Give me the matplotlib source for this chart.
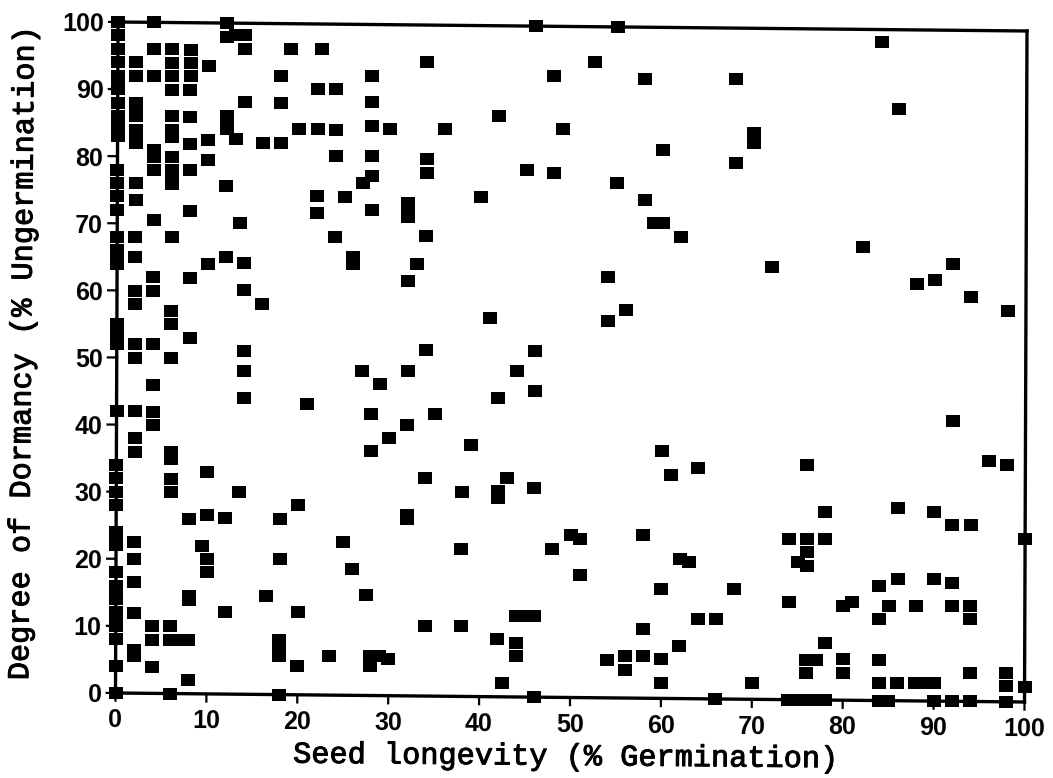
import matplotlib
matplotlib.use("Agg")
import matplotlib.pyplot as plt
import matplotlib.patheffects as pe
from matplotlib.transforms import Affine2D

# Seed longevity (% germination) -> list of dormancy (% ungermination) values
groups = [
 (0, [100,98,96,94,92,91,90,88,86,85,84,83,78,76,74,72,68,66,65,64,55,54,53,52,42,34,32,30,28,24,23,22,18,16,15,14,12,11,10,8,4,0]),
 (2, [94,92,88,87,86,84,83,82,76,73.5,68,65,60,58,52,50,42,38,36,22.5,20,16.5,12,6.5,5.5]),
 (4, [100,96,92,81,80,78,70.5,62,60,52,46,42,40,10,8,4]),
 (6, [96,94,92,90,86,84,83,80,78,77,76,68,57,55,50,36,35,32,30,10,8,0]),
 (7, [8]),
 (8, [96,94,92,90,86,82,78,72,62,53,26,14.5,14,8,2]),
 (9.5, [22]),
 (10, [93.6,82.6,79.6,64.1,33.1,26.6,20.1,18.1]),
 (12, [100,98,86.2,85.2,84.2,75.7,65.2,26.2,12.2]),
 (13, [98.2,82.7]),
 (13.5, [70.2,30.2]),
 (14, [98.2,96.2,88.2,64.2,60.2,51.2,48.2,44.2]),
 (16, [82.2,58.2]),
 (16.5, [14.7]),
 (18, [92.2,88.2,82.2,26.2,20.2,8.2,7.2,5.7,0]),
 (19, [96.3]),
 (20, [84.3,28.3,12.3,4.3]),
 (21, [43.3]),
 (22, [90.3,84.3,74.3,71.8]),
 (22.5, [96.3]),
 (23.5, [5.8]),
 (24, [90.3,84.3,80.3,68.3]),
 (25, [74.3,22.8]),
 (26, [65.3,64.3,18.8]),
 (27, [76.4,48.4]),
 (27.5, [14.9]),
 (28, [92.4,88.4,84.9,80.4,77.4,72.4,41.9,36.4,5.9,4.4]),
 (29, [46.4,5.9]),
 (30, [84.4,38.4,5.4]),
 (32, [73.4,72.4,71.4,61.9,48.4,40.4,26.9,26.4]),
 (33, [64.4]),
 (34, [94.5,80,78,68.5,51.5,32.5,10.5]),
 (35, [42]),
 (36, [84.5]),
 (38, [30.5,22,10.5]),
 (39, [37.5]),
 (40, [74.5]),
 (41, [56.5]),
 (42, [86.6,44.6,30.6,29.6,8.6]),
 (42.5, [2.1]),
 (43, [32.6]),
 (44, [48.6,12.1,8.1,6.1]),
 (45, [78.6,12.1]),
 (46, [100,51.6,45.6,31.1,12.1,0]),
 (48, [92.6,78.1,22.1]),
 (49, [84.7]),
 (50, [24.2]),
 (51, [23.7,18.2]),
 (52.5, [94.7]),
 (54, [62.7,56.2,5.7]),
 (55, [100,76.7]),
 (56, [57.8,6.2,4.2]),
 (58, [92.3,74.3,24.3,10.3,6.3]),
 (59, [70.8]),
 (60, [81.8,70.8,36.8,16.3,5.8,2.3]),
 (61, [33.3]),
 (62, [68.8,20.8,7.8]),
 (63, [20.3]),
 (64, [34.4,11.9]),
 (66, [11.9,0]),
 (68, [92.4,79.9,16.4]),
 (70, [84.4,82.9,2.4]),
 (72, [64.5]),
 (74, [24,14.5,0]),
 (75, [20.5,0]),
 (76, [35,24,22,20,6,4,0]),
 (77, [6,0]),
 (78, [28,24,8.5,0]),
 (80, [14.1,6.1,4.1]),
 (81, [14.6]),
 (82, [67.6]),
 (84, [98.1,17.1,12.1,6.1,2.6,0]),
 (85, [14.1,0]),
 (86, [88.2,28.7,18.2,2.6]),
 (88, [62.2,14.2,2.7]),
 (89, [2.7]),
 (90, [62.7,28.2,18.2,2.7,0]),
 (92, [65.2,41.7,26.2,17.7,14.2,0]),
 (94, [60.3,26.3,14.3,12.3,4.3,0]),
 (96, [35.8]),
 (98, [58.3,35.3,4.3,2.3,0]),
 (100, [24.3,2.3]),
]
x_ticks = list(range(0, 101, 10))
y_ticks = list(range(0, 101, 10))
x_label = "Seed longevity (% Germination)"
y_label = "Degree of Dormancy (% Ungermination)"

W, H = 1053, 778
ox, oy = 115.5, H - 693
fig = plt.figure(figsize=(W/100, H/100), dpi=100, facecolor="white")
ax = fig.add_axes([ox/W, oy/H, 909/W, 671/H])
ax.patch.set_visible(False)

# The page sits slightly skewed in the scan: a small shear in pixel space
skew = (Affine2D().translate(-ox, -oy)
        + Affine2D.from_values(1, -9/909, 2.5/671, 1, 0, 0)
        + Affine2D().translate(ox, oy))
tr = ax.transData + skew

xs = [g[0] for g in groups for _ in g[1]]
ys = [v for g in groups for v in g[1]]
marker = [(-1,-0.78),(1,-0.78),(1,0.78),(-1,0.78)]
ax.set_xticks(x_ticks); ax.set_yticks(y_ticks)
ax.scatter(xs, ys, marker=marker, s=112, c="black", linewidths=0, clip_on=False,
           zorder=3, transform=tr)
# tick marks that follow the skewed frame, as short segments in axis units
for t in x_ticks:
    ax.plot([t, t], [0, -1.3], color="black", lw=1.6, clip_on=False, transform=tr,
            solid_capstyle="butt", zorder=2)
for t in y_ticks:
    ax.plot([0, -1.1], [t, t], color="black", lw=1.6, clip_on=False, transform=tr,
            solid_capstyle="butt", zorder=2)
ax.set_xlim(0, 100); ax.set_ylim(0, 100)
ax.tick_params(axis="x", direction="out", length=6, width=2, pad=5, labelsize=18)
ax.tick_params(axis="y", direction="out", length=7, width=2, pad=3, labelsize=18)
for axis, rot in ((ax.xaxis, -0.5), (ax.yaxis, -0.5)):
    for tick in axis.get_major_ticks():
        tick.tick1line.set_visible(False)
        tick.label1.set_transform(tick.label1.get_transform() + skew)
        tick.label1.set_fontweight("bold")
        tick.label1.set_family("Liberation Sans")
        tick.label1.set_rotation(rot)
for s in ax.spines.values():
    s.set_linewidth(2.4)
    s.set_transform(s.get_transform() + skew)

stroke = [pe.withStroke(linewidth=0.7, foreground="black")]
fig.text(565/W, 1-757/H, x_label, family="Liberation Mono", fontsize=21.8,
         ha="center", va="center", color="black", rotation=-0.5, path_effects=stroke)
fig.text(23/W, 1-354/H, y_label, family="Liberation Mono", fontsize=21.8,
         rotation=89.5, ha="center", va="center", color="black", path_effects=stroke)
fig.savefig("out.png", dpi=100)
